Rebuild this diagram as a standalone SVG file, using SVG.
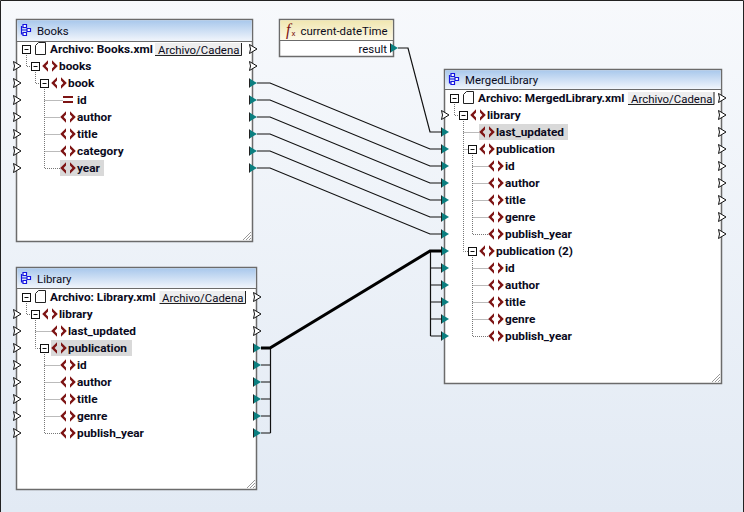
<svg xmlns="http://www.w3.org/2000/svg" width="744" height="512" viewBox="0 0 744 512">
<style>
text{font-family:Roboto,"Noto Sans","Liberation Sans",sans-serif;font-size:11.4px;fill:#0a0a20}
.b{font-weight:bold;font-size:11.8px}
.box{fill:#fff;stroke:#6b6b6b;stroke-width:1.5}
.dot{fill:none;stroke:#777;stroke-width:1;stroke-dasharray:1 1}
.hl{fill:#d9d9d9}
.c{fill:none;stroke:#111;stroke-width:1.2}
.btn{fill:#eeeeee}
.edge{fill:none;stroke:#222;stroke-width:1}
.sep{stroke:#6b6b6b;stroke-width:1}
</style>
<defs>
<linearGradient id="bg" x1="0" y1="0" x2="0" y2="1"><stop offset="0" stop-color="#f7f9fc"/><stop offset="1" stop-color="#e2eaf4"/></linearGradient>
<linearGradient id="tb" x1="0" y1="0" x2="0" y2="1"><stop offset="0" stop-color="#a9c8ec"/><stop offset="1" stop-color="#f2f6fc"/></linearGradient>
<linearGradient id="fb" x1="0" y1="0" x2="0" y2="1"><stop offset="0" stop-color="#f0e6b0"/><stop offset="1" stop-color="#fdf9e6"/></linearGradient>
<g id="pw"><path d="M-3.500-4.500 L4 0 L-3.500 4.500 L-2.500 0 Z" fill="#fff" stroke="#111" stroke-width="1"/></g>
<g id="pt"><path d="M-3.500-4.500 L4 0 L-3.500 4.500 Z" fill="#0b7f80"/><path d="M-3.500-4.500 V4.500" stroke="#222" stroke-width="1"/></g>
<g id="col"><rect x="-3.500" y="-3.500" width="8" height="8" fill="#fff" stroke="#111" stroke-width="1"/><path d="M-1.500 .5H2.500" stroke="#111" stroke-width="1"/></g>
<g id="el"><path d="M-2-5.800 L-7.800 0 L-2 5.800 V2.400 L-4.400 0 L-2-2.400 Z M2-5.800 L7.800 0 L2 5.800 V2.400 L4.400 0 L2-2.400 Z" fill="#7d1414"/></g>
<g id="attr"><path d="M-5-2.500H5M-5 2.500H5" stroke="#7d1414" stroke-width="2"/></g>
<g id="file"><path d="M-5 6V-3L-2-6H5V6Z" fill="#fff" stroke="#222" stroke-width="1"/></g>
<g id="comp"><path d="M-3-5.500h3.500v3h-3.500zM-3 2.500h3.500v3h-3.500zM1-1.500h3.500v3h-3.500zM-4.500-4V4H-3M-4.500 0H1" fill="#fff" stroke="#1414e0" stroke-width="1.200"/></g>
<g id="grip"><path d="M-1-9L-9-1M-1-6L-6-1M-1-3L-3-1" stroke="#999" stroke-width="1" fill="none"/></g>
</defs>

<rect x="0" y="0" width="744" height="512" fill="url(#bg)"/>
<path d="M.5 512V.5H743.500V512" fill="none" stroke="#222" stroke-width="1"/>

<g id="books">
<rect class="box" x="16.500" y="19.500" width="236" height="222"/>
<rect x="17.300" y="20.300" width="234.400" height="21" fill="url(#tb)"/>
<path class="sep" d="M17 41.500H252"/>
<use href="#comp" x="26" y="30"/><text x="37" y="35">Books</text>
<path class="dot" d="M26.500 53V66.500H31M35.500 70V83.500H40M44.500 87V168.500H60M44.500 100.500H63M44.500 117.500H60M44.500 134.500H60M44.500 151.500H60"/>
<rect class="hl" x="60" y="160" width="44" height="16"/>
<use href="#col" x="26" y="49"/><use href="#file" x="40.500" y="48.500"/><text class="b" x="50" y="53">Archivo: Books.xml</text>
<rect class="btn" x="155" y="43" width="87" height="13"/><path class="edge" d="M241.500 43V55.500H155"/><text x="158" y="53.500">Archivo/Cadena</text>
<use href="#col" x="35" y="66"/><use href="#el" x="50" y="66"/><text class="b" x="59" y="70">books</text>
<use href="#col" x="44" y="83"/><use href="#el" x="59" y="83"/><text class="b" x="68" y="87">book</text>
<use href="#attr" x="68" y="99.500"/><text class="b" x="77" y="104">id</text>
<use href="#el" x="68" y="117"/><text class="b" x="77" y="121">author</text>
<use href="#el" x="68" y="134"/><text class="b" x="77" y="138">title</text>
<use href="#el" x="68" y="151"/><text class="b" x="77" y="155">category</text>
<use href="#el" x="68" y="168"/><text class="b" x="77" y="172">year</text>
<use href="#pw" x="253" y="49"/><use href="#pw" x="253" y="66"/>
<use href="#pt" x="253" y="83"/><use href="#pt" x="253" y="100"/><use href="#pt" x="253" y="117"/><use href="#pt" x="253" y="134"/><use href="#pt" x="253" y="151"/><use href="#pt" x="253" y="168"/>
<use href="#pw" x="17" y="66"/><use href="#pw" x="17" y="83"/><use href="#pw" x="17" y="100"/><use href="#pw" x="17" y="117"/><use href="#pw" x="17" y="134"/><use href="#pw" x="17" y="151"/><use href="#pw" x="17" y="168"/>
<use href="#grip" x="252" y="241"/>
</g>

<g id="library">
<rect class="box" x="16.500" y="267.500" width="240" height="222"/>
<rect x="17.300" y="268.300" width="238.400" height="20" fill="url(#tb)"/>
<path class="sep" d="M17 288.500H256"/>
<use href="#comp" x="26" y="278"/><text x="37" y="283">Library</text>
<path class="dot" d="M26.500 301V314.500H31M35.500 318V348.500H40M35.500 331.500H52M44.500 352V433.500H60M44.500 365.500H60M44.500 382.500H60M44.500 399.500H60M44.500 416.500H60"/>
<rect class="hl" x="51" y="340" width="81" height="16"/>
<use href="#col" x="26" y="297"/><use href="#file" x="40.500" y="296.500"/><text class="b" x="50" y="301">Archivo: Library.xml</text>
<rect class="btn" x="159.500" y="291" width="86.500" height="13"/><path class="edge" d="M245.500 291V303.500H159.500"/><text x="162" y="301.500">Archivo/Cadena</text>
<use href="#col" x="35" y="314"/><use href="#el" x="50" y="314"/><text class="b" x="59" y="318">library</text>
<use href="#el" x="59" y="331"/><text class="b" x="68" y="335">last_updated</text>
<use href="#col" x="44" y="348"/><use href="#el" x="59" y="348"/><text class="b" x="68" y="352">publication</text>
<use href="#el" x="68" y="365"/><text class="b" x="77" y="369">id</text>
<use href="#el" x="68" y="382"/><text class="b" x="77" y="386">author</text>
<use href="#el" x="68" y="399"/><text class="b" x="77" y="403">title</text>
<use href="#el" x="68" y="416"/><text class="b" x="77" y="420">genre</text>
<use href="#el" x="68" y="433"/><text class="b" x="77" y="437">publish_year</text>
<use href="#pw" x="257" y="297"/><use href="#pw" x="257" y="314"/><use href="#pw" x="257" y="331"/>
<use href="#pt" x="257" y="348"/><use href="#pt" x="257" y="365"/><use href="#pt" x="257" y="382"/><use href="#pt" x="257" y="399"/><use href="#pt" x="257" y="416"/><use href="#pt" x="257" y="433"/>
<use href="#pw" x="17" y="314"/><use href="#pw" x="17" y="331"/><use href="#pw" x="17" y="348"/><use href="#pw" x="17" y="365"/><use href="#pw" x="17" y="382"/><use href="#pw" x="17" y="399"/><use href="#pw" x="17" y="416"/><use href="#pw" x="17" y="433"/>
<use href="#grip" x="256" y="489"/>
</g>

<g id="current-dateTime">
<rect class="box" x="279.500" y="19.500" width="114" height="37"/>
<rect x="280.300" y="20.300" width="112.400" height="20" fill="url(#fb)"/>
<path class="sep" d="M280 40.500H393"/>
<text x="286" y="35" style="font-family:'Liberation Serif',serif;font-style:italic;font-size:16px;fill:#7d1414">f</text><text x="291.500" y="36" style="font-size:8px;fill:#7d1414">x</text>
<text x="300.500" y="35">current-dateTime</text>
<text x="387" y="53" text-anchor="end">result</text>
<use href="#pt" x="394" y="48"/>
</g>

<g id="mergedlibrary">
<rect class="box" x="444.500" y="69.500" width="277" height="314"/>
<rect x="445.300" y="70.300" width="275.400" height="19" fill="url(#tb)"/>
<path class="sep" d="M445 89.500H721"/>
<use href="#comp" x="454" y="79"/><text x="465" y="84">MergedLibrary</text>
<path class="dot" d="M454.500 102V115.500H459M463.500 119V251.500H469M463.500 132.500H480M463.500 149.500H469M472.500 153V234.500H489M472.500 166.500H489M472.500 183.500H489M472.500 200.500H489M472.500 217.500H489M472.500 255V336.500H489M472.500 268.500H489M472.500 285.500H489M472.500 302.500H489M472.500 319.500H489"/>
<rect class="hl" x="479" y="124" width="89" height="16"/>
<use href="#col" x="454" y="98"/><use href="#file" x="468.500" y="97.500"/><text class="b" x="478" y="102">Archivo: MergedLibrary.xml</text>
<rect class="btn" x="628" y="92" width="86.500" height="13"/><path class="edge" d="M714 92V104.500H628"/><text x="631" y="102.500">Archivo/Cadena</text>
<use href="#col" x="463" y="115"/><use href="#el" x="478" y="115"/><text class="b" x="487" y="119">library</text>
<use href="#el" x="487" y="132"/><text class="b" x="496" y="136">last_updated</text>
<use href="#col" x="472" y="149"/><use href="#el" x="487" y="149"/><text class="b" x="496" y="153">publication</text>
<use href="#el" x="496" y="166"/><text class="b" x="505" y="170">id</text>
<use href="#el" x="496" y="183"/><text class="b" x="505" y="187">author</text>
<use href="#el" x="496" y="200"/><text class="b" x="505" y="204">title</text>
<use href="#el" x="496" y="217"/><text class="b" x="505" y="221">genre</text>
<use href="#el" x="496" y="234"/><text class="b" x="505" y="238">publish_year</text>
<use href="#col" x="472" y="251"/><use href="#el" x="487" y="251"/><text class="b" x="496" y="255">publication (2)</text>
<use href="#el" x="496" y="268"/><text class="b" x="505" y="272">id</text>
<use href="#el" x="496" y="285"/><text class="b" x="505" y="289">author</text>
<use href="#el" x="496" y="302"/><text class="b" x="505" y="306">title</text>
<use href="#el" x="496" y="319"/><text class="b" x="505" y="323">genre</text>
<use href="#el" x="496" y="336"/><text class="b" x="505" y="340">publish_year</text>
<use href="#pw" x="722" y="98"/><use href="#pw" x="722" y="115"/><use href="#pw" x="722" y="132"/><use href="#pw" x="722" y="149"/><use href="#pw" x="722" y="166"/><use href="#pw" x="722" y="183"/><use href="#pw" x="722" y="200"/><use href="#pw" x="722" y="217"/><use href="#pw" x="722" y="234"/>
<use href="#pw" x="445" y="115"/>
<use href="#pt" x="445" y="132"/><use href="#pt" x="445" y="149"/><use href="#pt" x="445" y="166"/><use href="#pt" x="445" y="183"/><use href="#pt" x="445" y="200"/><use href="#pt" x="445" y="217"/><use href="#pt" x="445" y="234"/><use href="#pt" x="445" y="251"/><use href="#pt" x="445" y="268"/><use href="#pt" x="445" y="285"/><use href="#pt" x="445" y="302"/><use href="#pt" x="445" y="319"/><use href="#pt" x="445" y="336"/>
<use href="#grip" x="721" y="383"/>
</g>

<g id="connectors">
<path class="c" d="M398 48H408L430 132H441.500"/>
<path class="c" d="M257 83H270L430 149H441.500"/>
<path class="c" d="M257 100H270L430 166H441.500"/>
<path class="c" d="M257 117H270L430 183H441.500"/>
<path class="c" d="M257 134H270L430 200H441.500"/>
<path class="c" d="M257 151H270L430 217H441.500"/>
<path class="c" d="M257 168H270L430 234H441.500"/>
<path class="c" d="M261 365H270.500M261 382H270.500M261 399H270.500M261 416H270.500M261 433H270.500M270.500 348V433"/>
<path class="c" d="M430.500 251V336M430.500 268H441.500M430.500 285H441.500M430.500 302H441.500M430.500 319H441.500M430.500 336H441.500"/>
<path d="M261 348H270L430 251H441.500" fill="none" stroke="#000" stroke-width="3"/>
</g>
</svg>
